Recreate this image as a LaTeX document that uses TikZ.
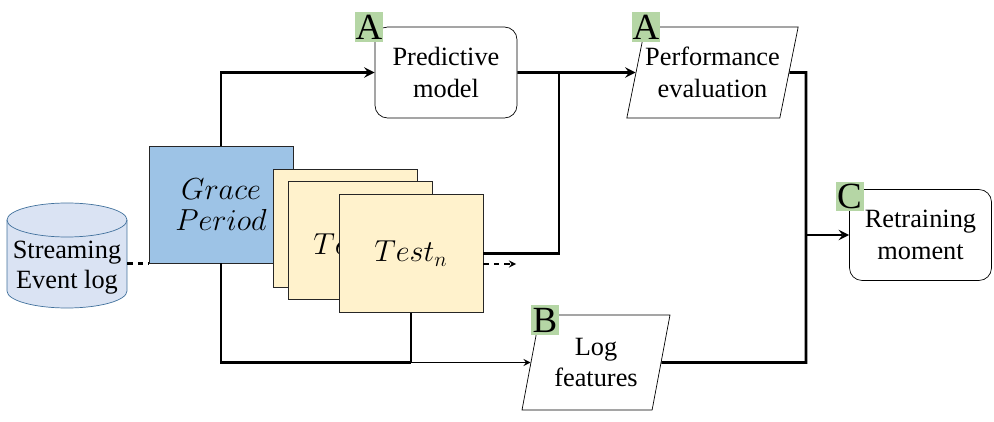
\documentclass[tikz,border=0pt]{standalone}
\usepackage{fontspec}
\setmainfont{Liberation Serif}
\usepackage{xcolor}
\usepackage{tikz}
\usetikzlibrary{shapes.geometric, arrows}
\definecolor{logfill}{HTML}{DAE3F3}
\definecolor{logedge}{HTML}{41719C}
\definecolor{gracefill}{HTML}{9DC3E6}
\definecolor{testfill}{HTML}{FFF2CC}
\definecolor{tagfill}{RGB}{181,214,165}
\tikzstyle{store} = [draw=logedge, fill=logfill]
\tikzstyle{plain} = [align=center, inner sep=0pt, font=\fontsize{15}{17}\selectfont]
\tikzstyle{window} = [rectangle, minimum width=2.88cm, minimum height=2.36cm, draw=black!85, fill=testfill, font=\fontsize{18}{20}\selectfont]
\tikzstyle{process} = [rectangle, rounded corners=0.25cm, minimum width=2.84cm, minimum height=1.82cm, draw=black, align=center, font=\fontsize{15}{18}\selectfont]
\tikzstyle{data} = [trapezium, trapezium left angle=70, trapezium right angle=110, trapezium stretches body, inner sep=0pt, draw=black, align=center, font=\fontsize{15}{18}\selectfont]
\tikzstyle{tag} = [rectangle, fill=tagfill, minimum width=0.56cm, minimum height=0.6cm, inner sep=0pt, font=\fontsize{21}{21}\selectfont]
\tikzstyle{line} = [line width=1.6pt]
\tikzstyle{arrow} = [line width=1.6pt,->,>=stealth]

\begin{document}
\begin{tikzpicture}[x=0.02cm, y=-0.02cm]
        \useasboundingbox (0,0) rectangle (994,422);
        % event log drum
        \draw [store] (7,220) -- (7,291) arc [start angle=180, end angle=360, x radius=1.2cm, y radius=0.34cm]
            -- (127,220) arc [start angle=0, end angle=180, x radius=1.2cm, y radius=0.34cm] -- cycle;
        \draw [store, fill=none] (7,220) arc [start angle=180, end angle=360, x radius=1.2cm, y radius=0.34cm];
        \node (log) [plain, minimum width=2.4cm] at (67,268) {Streaming\\Event log};
        \node (grace) [window, fill=gracefill, minimum height=2.34cm, align=center] at (221,204.5) {$Grace$\\[-2pt]$Period$};
        \node (test1) [window] at (345.5,228) {};
        \node (test2) [window] at (360,240.5) {};
        \node (test2text) [anchor=west, inner sep=0pt, font=\fontsize{18}{20}\selectfont] at (313,244) {$Test$};
        \node (testn) [window] at (411,253.5) {$Test_n$};
        \node (pred) [process] at (446,72.5) {Predictive\\model};
        \node (perf) [data, minimum width=3.38cm, minimum height=1.82cm] at (712.5,72.5) {Performance\\evaluation};
        \node (feat) [data, minimum width=2.96cm, minimum height=1.9cm] at (596,362.5) {Log\\features};
        \node (retrain) [process] at (920.5,235) {Retraining\\moment};
        \node (tagpred) [tag] at (369,27) {A};
        \node (tagperf) [tag] at (646,27) {A};
        \node (tagfeat) [tag] at (545,320) {B};
        \node (tagretrain) [tag] at (849.5,196.5) {C};

        \coordinate (joinpred) at (559,72.5);
        \coordinate (joinright) at (806,362.5);
        \coordinate (joinretrain) at (806,235);
        \coordinate (next) at (516,264);

        \draw [line, dashed] (log.east |- grace.south west) -- (grace.south west);
        \draw [arrow] (grace.north) |- (pred.west);
        \draw [arrow] (pred.east) -- (perf.west);
        \draw [line] (testn.east) -| (joinpred);
        \draw [thick, dashed, ->, >=stealth] (testn.east |- next) -- (next);
        \draw [line] (grace.south) |- (testn.south |- feat.west);
        \draw [line] (testn.south) -- (testn.south |- feat.west);
        \draw [thick, ->, >=stealth] (testn.south |- feat.west) -- (feat.west);
        \draw [line] (perf.east) -| (joinright) -- (feat.east);
        \draw [arrow] (joinretrain) -- (retrain.west);
    \end{tikzpicture}
\end{document}
